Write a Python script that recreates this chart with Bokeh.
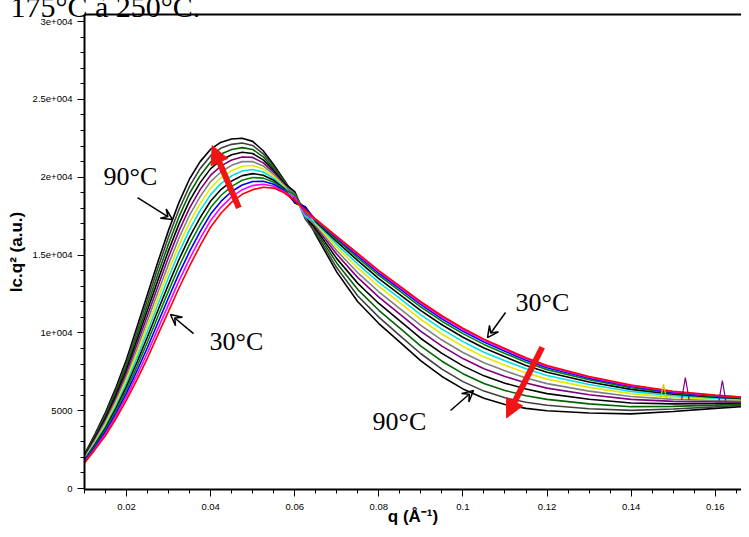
from bokeh.plotting import figure
from bokeh.models import Range1d, FixedTicker, LinearAxis, Label, Arrow, VeeHead, NormalHead
from bokeh.embed import file_html
from bokeh.resources import INLINE

# ---------------- data ----------------
q = [0.010, 0.0125, 0.015, 0.0175, 0.020, 0.0225, 0.025, 0.0275, 0.030, 0.0325, 0.035, 0.0375,
     0.040, 0.0425, 0.045, 0.0475, 0.050, 0.0525, 0.055, 0.0575, 0.060, 0.0625,
     0.065, 0.070, 0.075, 0.080, 0.085, 0.090, 0.095, 0.100, 0.105, 0.110, 0.115, 0.120,
     0.130, 0.140, 0.150, 0.160, 0.168]

I_30 = [1650, 2500, 3400, 4500, 5700, 7000, 8400, 9900, 11400, 12900, 14300, 15600, 16800, 17700, 18400, 18900, 19200, 19350, 19300, 19000, 18500, 17900,
        17300, 16200, 15100, 14000, 13000, 12000, 11100, 10300, 9600, 9000, 8400, 7900, 7200, 6650, 6250, 6000, 5850]
I_35 = [1700, 2580, 3520, 4670, 5920, 7280, 8740, 10290, 11830, 13360, 14770, 16050, 17220, 18080, 18740, 19200, 19460, 19550, 19420, 19070, 18720, 17630,
        17280, 16150, 15040, 13930, 12930, 11920, 11020, 10220, 9520, 8930, 8340, 7840, 7150, 6610, 6220, 5980, 5840]
I_40 = [1740, 2670, 3650, 4830, 6130, 7570, 9080, 10680, 12270, 13820, 15230, 16500, 17630, 18460, 19080, 19500, 19720, 19740, 19550, 19130, 18400, 18050,
        17250, 16090, 14940, 13830, 12820, 11810, 10900, 10100, 9410, 8820, 8240, 7760, 7080, 6560, 6180, 5960, 5820]
I_45 = [1790, 2750, 3780, 5000, 6350, 7850, 9430, 11080, 12700, 14280, 15700, 16950, 18050, 18840, 19410, 19800, 19980, 19940, 19680, 19200, 18880, 17720,
        17210, 15990, 14820, 13690, 12680, 11660, 10750, 9950, 9260, 8680, 8110, 7640, 6990, 6480, 6130, 5920, 5800]
I_50 = [1830, 2830, 3900, 5170, 6570, 8130, 9770, 11470, 13130, 14730, 16170, 17400, 18470, 19220, 19750, 20100, 20230, 20130, 19800, 19270, 18350, 18100,
        17150, 15860, 14640, 13490, 12460, 11430, 10520, 9720, 9030, 8460, 7910, 7470, 6850, 6370, 6060, 5870, 5770]
I_55 = [1880, 2920, 4030, 5330, 6780, 8420, 10110, 11860, 13570, 15190, 16630, 17850, 18880, 19600, 20090, 20400, 20490, 20330, 19920, 19330, 18720, 17480,
        17080, 15690, 14420, 13250, 12210, 11160, 10240, 9440, 8760, 8210, 7690, 7260, 6680, 6240, 5960, 5810, 5730]
I_60 = [1920, 3000, 4150, 5500, 7000, 8700, 10450, 12250, 14000, 15650, 17100, 18300, 19300, 19980, 20420, 20700, 20750, 20520, 20050, 19400, 18350, 17900,
        17000, 15510, 14170, 12980, 11920, 10860, 9930, 9130, 8460, 7920, 7430, 7030, 6500, 6100, 5860, 5750, 5690]
I_65 = [1970, 3080, 4280, 5670, 7220, 8980, 10790, 12640, 14430, 16110, 17570, 18750, 19720, 20350, 20760, 21000, 21010, 20720, 20180, 19470, 18930, 17520,
        16900, 15280, 13860, 12640, 11560, 10480, 9540, 8740, 8080, 7560, 7100, 6740, 6260, 5910, 5730, 5660, 5630]
I_70 = [2020, 3170, 4400, 5830, 7430, 9270, 11130, 13030, 14870, 16570, 18030, 19200, 20130, 20730, 21100, 21300, 21270, 20920, 20300, 19530, 18600, 18050,
        16800, 15050, 13550, 12300, 11200, 10100, 9150, 8350, 7700, 7200, 6780, 6450, 6030, 5730, 5600, 5580, 5580]
I_75 = [2060, 3250, 4520, 6000, 7650, 9550, 11480, 13420, 15300, 17020, 18500, 19650, 20550, 21110, 21440, 21600, 21520, 21110, 20420, 19600, 19070, 17530,
        16680, 14770, 13180, 11890, 10770, 9640, 8680, 7880, 7240, 6770, 6390, 6100, 5740, 5500, 5440, 5470, 5510]
I_80 = [2110, 3330, 4650, 6170, 7870, 9830, 11820, 13820, 15730, 17480, 18970, 20100, 20970, 21490, 21780, 21900, 21780, 21310, 20550, 19670, 18550, 17900,
        16550, 14480, 12780, 11450, 10300, 9150, 8180, 7380, 6750, 6300, 5960, 5730, 5440, 5260, 5280, 5360, 5440]
I_85 = [2150, 3420, 4780, 6330, 8080, 10120, 12160, 14210, 16170, 17940, 19430, 20550, 21380, 21870, 22110, 22200, 22040, 21500, 20680, 19730, 18930, 17320,
        16420, 14180, 12370, 11010, 9830, 8660, 7670, 6870, 6260, 5830, 5540, 5350, 5130, 5020, 5110, 5250, 5370]
I_90 = [2200, 3500, 4900, 6500, 8300, 10400, 12500, 14600, 16600, 18400, 19900, 21000, 21800, 22250, 22450, 22500, 22300, 21700, 20800, 19800, 18800, 17600,
        16300, 13900, 12000, 10600, 9400, 8200, 7200, 6400, 5800, 5400, 5150, 5000, 4850, 4800, 4950, 5150, 5300]

temperatures = [30, 35, 40, 45, 50, 55, 60, 65, 70, 75, 80, 85, 90]
series = [I_30, I_35, I_40, I_45, I_50, I_55, I_60, I_65, I_70, I_75, I_80, I_85, I_90]
curve_colors = ["#ff0000", "#ff00ff", "#0000ff", "#008000", "#000000", "#00e0e0", "#e8e800",
                "#808080", "#800080", "#000000", "#006400", "#404040", "#000000"]

# isolated detector spikes visible in the tail
spike_q = [[0.1520, 0.1529, 0.1538], [0.1609, 0.1617, 0.1625], [0.1470, 0.1477, 0.1484]]
spike_I = [[5700, 7130, 5700], [5650, 6940, 5650], [5800, 6700, 5800]]
spike_colors = ["#800080", "#800080", "#c8c800"]

x_ticks = [0.02, 0.04, 0.06, 0.08, 0.10, 0.12, 0.14, 0.16]
x_tick_labels = ["0.02", "0.04", "0.06", "0.08", "0.1", "0.12", "0.14", "0.16"]
y_ticks = [0, 5000, 10000, 15000, 20000, 25000, 30000]
y_tick_labels = ["0", "5000", "1e+004", "1.5e+004", "2e+004", "2.5e+004", "3e+004"]

SANS = "Liberation Sans"
SERIF = "Liberation Serif"

# ---------------- figure ----------------
p = figure(width=741, height=529, output_backend="svg", toolbar_location=None,
           x_range=Range1d(0.01, 0.16625), y_range=Range1d(-60, 30450),
           min_border_left=84, min_border_right=0, min_border_top=14, min_border_bottom=40,
           title="175°C à 250°C.")
p.grid.visible = False
p.outline_line_color = None
p.background_fill_color = "white"
p.border_fill_color = "white"

# cut-off caption text above the chart
p.title.text_font = SERIF
p.title.text_font_size = "30px"
p.title.text_font_style = "normal"
p.title.text_color = "black"
p.title.align = "left"
p.title.vertical_align = "top"
p.title.offset = -74
p.title.standoff = -21

for s, c in zip(reversed(series), reversed(curve_colors)):
    p.line(q, s, line_color=c, line_width=1.6)
for sq, si, c in zip(spike_q, spike_I, spike_colors):
    p.line(sq, si, line_color=c, line_width=1.2)

xa = p.xaxis[0]
xa.ticker = FixedTicker(ticks=x_ticks, minor_ticks=[round(0.01 + 0.005 * i, 4) for i in range(32)])
xa.major_label_overrides = {t: l for t, l in zip(x_ticks, x_tick_labels)}
xa.axis_label = "q (Å⁻¹)"
ya = p.yaxis[0]
ya.ticker = FixedTicker(ticks=y_ticks, minor_ticks=[1000 * i for i in range(31)])
ya.major_label_overrides = {t: l for t, l in zip(y_ticks, y_tick_labels)}
ya.axis_label = "Ic.q² (a.u.)"

for ax in (xa, ya):
    ax.axis_line_width = 2
    ax.axis_line_color = "black"
    ax.major_tick_in = 0
    ax.major_tick_out = 7
    ax.minor_tick_in = 0
    ax.minor_tick_out = 4
    ax.major_tick_line_color = "black"
    ax.minor_tick_line_color = "black"
    ax.major_label_text_font = SANS
    ax.major_label_text_font_size = "9.5px"
    ax.major_label_text_color = "black"
    ax.axis_label_text_font = SANS
    ax.axis_label_text_font_size = "17px"
    ax.axis_label_text_font_style = "bold"
    ax.axis_label_text_color = "black"
xa.major_label_standoff = 7
xa.axis_label_standoff = -6
ya.major_label_standoff = 5
ya.axis_label_standoff = 4

top = LinearAxis(ticker=FixedTicker(ticks=[]), major_tick_line_color=None, minor_tick_line_color=None,
                 major_label_text_font_size="0px", major_label_standoff=0, major_tick_out=0,
                 minor_tick_out=0, axis_line_width=2, axis_line_color="black")
p.add_layout(top, "above")

# ---------------- annotations ----------------
for (tx, ty, t) in [(0.01453, 20065, "90°C"), (0.03974, 9465, "30°C"),
                    (0.11251, 11970, "30°C"), (0.0785, 4326, "90°C")]:
    p.add_layout(Label(x=tx, y=ty, text=t, text_font=SERIF, text_font_size="26px",
                       text_baseline="alphabetic", text_color="black"))

for (x0, y0, x1, y1) in [(0.022616, 18694, 0.03094, 17281), (0.03593, 9957, 0.03046, 11178),
                         (0.11013, 11306, 0.10585, 9700), (0.09705, 5011, 0.10252, 6296)]:
    p.add_layout(Arrow(x_start=x0, y_start=y0, x_end=x1, y_end=y1, line_color="black", line_width=1.5,
                       end=VeeHead(size=11, line_color="black", line_width=1.5, fill_color=None)))

for (x0, y0, x1, y1) in [(0.04671, 18032, 0.04038, 22034), (0.11886, 9077, 0.11037, 4542)]:
    p.add_layout(Arrow(x_start=x0, y_start=y0, x_end=x1, y_end=y1, line_color="#f01414", line_width=6,
                       end=NormalHead(size=18, line_color="#f01414", fill_color="#f01414", line_width=1)))

open("out.html", "w").write(file_html(p, INLINE))
